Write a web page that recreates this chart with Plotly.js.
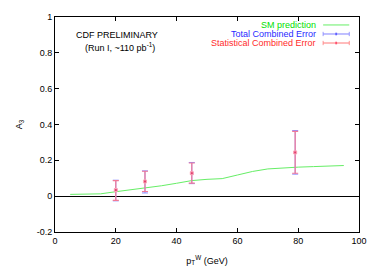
<!DOCTYPE html>
<html>
<head>
<meta charset="utf-8">
<script src="https://cdn.plot.ly/plotly-3.0.1.min.js"></script>
<style>html,body{margin:0;padding:0;background:#fff;}#chart{width:382px;height:273px;}</style>
</head>
<body>
<div id="chart"></div>
<script>
// SM prediction curve
const smX = [5, 10, 15, 20, 25, 30, 35, 40, 45, 50, 55, 60, 65, 70, 75, 80, 85, 90, 95];
const smY = [0.010, 0.011, 0.013, 0.025, 0.035, 0.046, 0.058, 0.072, 0.087, 0.094, 0.098, 0.118, 0.138, 0.152, 0.158, 0.162, 0.165, 0.168, 0.171];

// Measured A3 points
const ptW = [20, 29.6, 45, 79];
const a3 = [0.034, 0.082, 0.128, 0.244];
const totErrUp = [0.055, 0.059, 0.060, 0.122];
const totErrDn = [0.060, 0.064, 0.058, 0.121];
const statErrUp = [0.053, 0.057, 0.057, 0.118];
const statErrDn = [0.057, 0.056, 0.055, 0.116];

const xTicks = [0, 20, 40, 60, 80, 100];
const yTicks = [-0.2, 0, 0.2, 0.4, 0.6, 0.8, 1];
const yTickText = ['-0.2', '0', '0.2', '0.4', '0.6', '0.8', '1'];

const legendLabels = ['SM prediction', 'Total Combined Error', 'Statistical Combined Error'];
const legendColors = ['#00e000', '#2a2aff', '#ff2a2a'];

const font = 'Liberation Sans, Arial, sans-serif';

const traces = [
  {x: smX, y: smY, mode: 'lines', line: {color: '#66ee66', width: 1}, showlegend: false, hoverinfo: 'skip'},
  {x: ptW, y: a3, mode: 'markers', marker: {color: '#8080ff', size: 3, symbol: 'square'},
   error_y: {type: 'data', symmetric: false, array: totErrUp, arrayminus: totErrDn, color: '#8a8aff', thickness: 1, width: 3},
   showlegend: false},
  {x: ptW, y: a3, mode: 'markers', marker: {color: '#e04070', size: 3, symbol: 'square', line: {color: '#ffa8b8', width: 1}},
   error_y: {type: 'data', symmetric: false, array: statErrUp, arrayminus: statErrDn, color: '#f27a96', thickness: 1.2, width: 3},
   showlegend: false}
];

const annotations = [
  {text: 'CDF PRELIMINARY', x: 0.205, y: 0.915, xref: 'paper', yref: 'paper', showarrow: false, xanchor: 'center', yanchor: 'middle', font: {family: font, size: 9, color: '#000'}},
  {text: '(Run I, ~110 pb<sup>-1</sup>)', x: 0.215, y: 0.862, xref: 'paper', yref: 'paper', showarrow: false, xanchor: 'center', yanchor: 'middle', font: {family: font, size: 9, color: '#000'}}
];
const shapes = [];
const legendY = [0.963, 0.921, 0.879];
const sampleColors = ['#66ee66', '#8080ff', '#ff7878'];
for (let i = 0; i < legendLabels.length; i++) {
  annotations.push({text: legendLabels[i], x: 0.864, y: legendY[i], xref: 'paper', yref: 'paper', showarrow: false,
    xanchor: 'right', yanchor: 'middle', font: {family: font, size: 9, color: legendColors[i]}});
  shapes.push({type: 'line', xref: 'paper', yref: 'paper', x0: 0.882, x1: 0.968, y0: legendY[i], y1: legendY[i],
    line: {color: sampleColors[i], width: 1}});
  if (i > 0) {
    shapes.push({type: 'line', xref: 'paper', yref: 'paper', x0: 0.882, x1: 0.882, y0: legendY[i] - 0.01, y1: legendY[i] + 0.01, line: {color: sampleColors[i], width: 0.8}});
    shapes.push({type: 'line', xref: 'paper', yref: 'paper', x0: 0.968, x1: 0.968, y0: legendY[i] - 0.01, y1: legendY[i] + 0.01, line: {color: sampleColors[i], width: 0.8}});
    shapes.push({type: 'rect', xref: 'paper', yref: 'paper', x0: 0.922, x1: 0.928, y0: legendY[i] - 0.006, y1: legendY[i] + 0.006, line: {width: 0}, fillcolor: i === 1 ? '#6060ff' : '#ff5070'});
  }
}

const layout = {
  width: 382, height: 273,
  margin: {l: 55, r: 23, t: 17, b: 41},
  paper_bgcolor: '#fff', plot_bgcolor: '#fff',
  font: {family: font, size: 9, color: '#000'},
  showlegend: false,
  xaxis: {range: [0, 100], tickvals: xTicks, ticks: 'inside', ticklen: 4, tickcolor: '#000', mirror: 'ticks',
    showline: true, linecolor: '#000', linewidth: 1, showgrid: false, zeroline: false,
    title: {text: 'p<sub>T</sub><sup>W</sup> (GeV)', font: {family: font, size: 9}, standoff: 12}},
  yaxis: {range: [-0.2, 1], tickvals: yTicks, ticktext: yTickText, ticks: 'inside', ticklen: 4, tickcolor: '#000', mirror: 'ticks',
    showline: true, linecolor: '#000', linewidth: 1, showgrid: false, zeroline: true, zerolinecolor: '#000', zerolinewidth: 1,
    title: {text: 'A<sub>3</sub>', font: {family: font, size: 9}, standoff: 12}},
  annotations: annotations,
  shapes: shapes
};

Plotly.newPlot('chart', traces, layout, {staticPlot: true, displayModeBar: false});
</script>
</body>
</html>
